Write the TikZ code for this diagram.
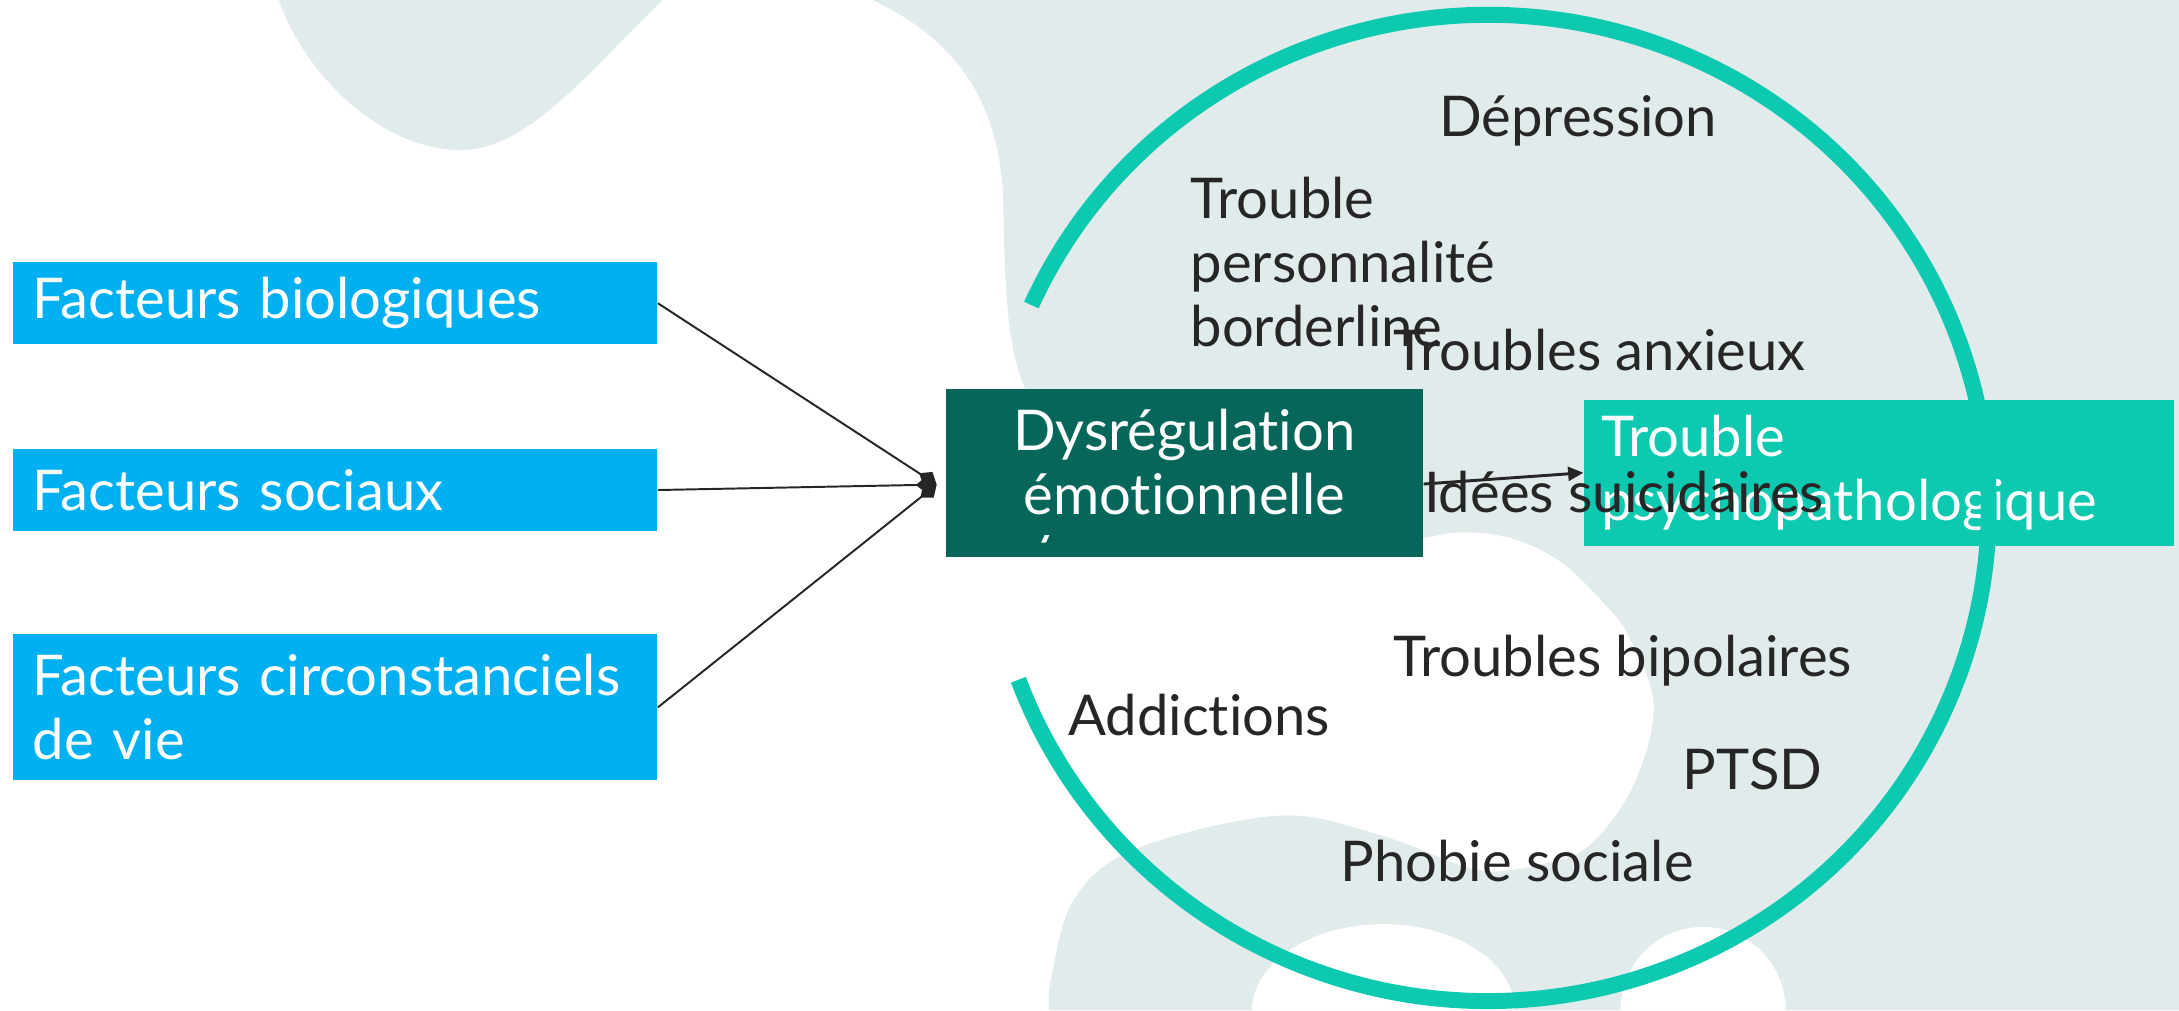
\documentclass[tikz,border=0pt]{standalone}
\usepackage{fontspec}
\setmainfont{Lato}[Ligatures={NoCommon}]
\usepackage{tikz}
\usetikzlibrary{arrows.meta, positioning, calc}
\definecolor{causeblue}{RGB}{0,176,240}
\definecolor{coreink}{RGB}{6,102,90}
\definecolor{ringteal}{RGB}{12,201,176}
\definecolor{blobgrey}{RGB}{225,235,236}
\definecolor{labelink}{RGB}{38,38,38}
\newcommand{\diagfont}{\fontsize{11.5pt}{13.1pt}\selectfont}
\tikzset{
    cause/.style={
        rectangle,
        fill=causeblue,
        text=white,
        font=\diagfont,
        inner xsep=0.14cm,
        inner ysep=0.05cm,
        text width=4.35cm,
        align=left,
        minimum height=0.59cm,
    },
    core/.style={
        rectangle,
        fill=coreink,
        text=white,
        font=\diagfont,
        inner sep=0.05cm,
        align=center,
        minimum width=3.43cm,
        minimum height=1.06cm,
    },
    outcome/.style={
        rectangle,
        fill=ringteal,
        text=white,
        font=\diagfont,
        inner xsep=0.12cm,
        inner ysep=0.05cm,
        text width=4.0cm,
        align=left,
        minimum height=1.05cm,
    },
    symptom/.style={
        text=labelink,
        font=\diagfont,
        inner sep=0pt,
        anchor=base west,
        align=left,
    },
    blob/.style={fill=blobgrey},
    ring/.style={draw=ringteal, line width=0.115cm},
    feed/.style={draw=black!85, line width=0.4pt, -{Diamond[length=0.15cm,width=0.12cm]}},
    push/.style={draw=black!85, line width=0.6pt, -{Triangle[length=0.11cm,width=0.1cm]}},
}
\begin{document}
\begin{tikzpicture}[node distance=0.74cm and 1.15cm]
          \useasboundingbox (0,0) rectangle (15.68,-7.27);
          \clip (0,0) rectangle (15.68,-7.27);

          % background
          \fill[blob] (2.006,0) .. controls (2.2,-0.55) and (2.75,-1.08) .. (3.32,-1.08)
              .. controls (3.8,-1.08) and (4.25,-0.5) .. (4.77,0) -- cycle;
          \fill[blob] (6.28,0) .. controls (6.8,-0.25) and (7.21,-0.65) .. (7.22,-1.5)
              .. controls (7.23,-2.3) and (7.28,-2.6) .. (7.40,-2.85)
              -- (7.6,-3.92) -- (10.0,-3.92)
              -- plot[smooth, tension=0.6] coordinates {(10.0,-3.92) (10.25,-3.87) (10.54,-3.83) (10.9,-3.88) (11.24,-4.05) (11.55,-4.35) (11.72,-4.58) (11.90,-5.08) (11.75,-5.66) (11.43,-6.09) (11.1,-6.22) (10.80,-6.27)}
              -- plot[smooth, tension=0.6] coordinates {(10.80,-6.27) (10.55,-6.24) (9.90,-6.00) (9.19,-5.87) (8.17,-6.11) (7.73,-6.47) (7.565,-7.03) (7.55,-7.27)}
              -- (15.68,-7.27) -- (15.68,0) -- cycle;
          \fill[white] (9.01,-7.27) arc[start angle=180, end angle=0, x radius=0.945, y radius=0.62];
          \fill[white] (11.66,-7.27) arc[start angle=180, end angle=0, x radius=0.595, y radius=0.60];

          % causes
          \node [cause, anchor=north west] (bio) at (0.09,-1.88) {Facteurs biologiques};
          \node [cause] (soc) [below=of bio] {Facteurs sociaux};
          \node [cause, minimum height=1.05cm] (circ) [below=0.73cm of soc] {Facteurs circonstanciels\\de vie};

          % dysregulation
          \fill[coreink] (6.806,-2.94) rectangle (10.243,-4.006);
          \node [core, anchor=north west] (dysreg) at (6.80,-2.79) {Dysrégulation\\émotionnelle};
          \begin{scope}
            \clip (6.80,-3.85) rectangle (10.25,-4.0);
            \node [symptom, text=white] (ghost) at (7.44,-3.84) {y};
          \end{scope}
          \node [outcome, yshift=-0.075cm] (trouble) [right=of dysreg] {Trouble\\psychopathologique};

          \coordinate (dysreg-in) at ([xshift=-0.06cm,yshift=-0.16cm]dysreg.west);
          \coordinate (dysreg-out) at ([yshift=-0.156cm]dysreg.east);

          \path (bio.east) edge [feed] (dysreg-in);
          \path (soc.east) edge [feed] (dysreg-in);
          \path (circ.east) edge [feed] (dysreg-in);
          \path (dysreg-out) edge [push] (trouble.west);

          % ring
          \coordinate (ringc) at (10.706,-3.655);
          \draw[ring] ([shift={(155.7:3.604 and 3.548)}]ringc) arc[start angle=155.7, end angle=-159.6, x radius=3.604, y radius=3.548];

          % disorders
          \node [symptom] (dep) at (10.35,-0.983) {Dépression};
          \node [symptom] (bpd) at (8.56,-2.49) {Trouble\\personnalité\\borderline};
          \node [symptom] (anx) at (10.02,-2.665) {Troubles anxieux};
          \node [symptom] (idees) at (10.24,-3.69) {Idées suicidaires};
          \node [symptom] (bip) at (10.02,-4.87) {Troubles bipolaires};
          \node [symptom] (addic) at (7.68,-5.29) {Addictions};
          \node [symptom] (ptsd) at (12.10,-5.68) {PTSD};
          \node [symptom] (phob) at (9.64,-6.34) {Phobie sociale};
\end{tikzpicture}
\end{document}
